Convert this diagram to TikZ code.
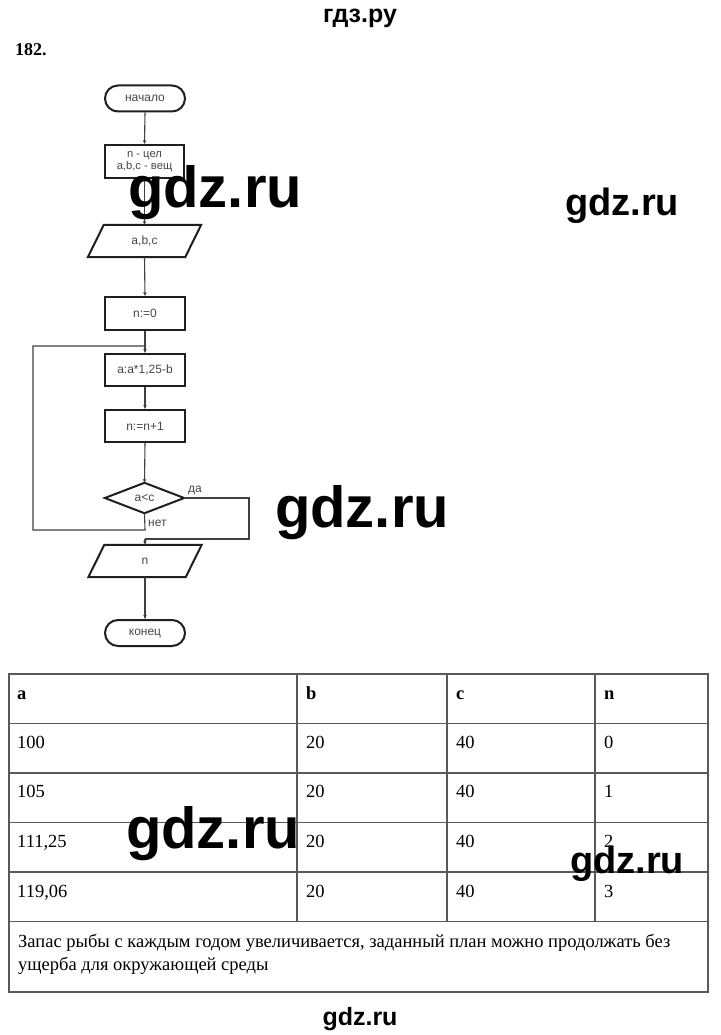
\documentclass[tikz,border=0pt]{standalone}
\usepackage{fontspec}
\setmainfont{Liberation Serif}
\newfontfamily\arialf{Liberation Sans}
\usetikzlibrary{arrows.meta,calc}
\begin{document}
\begin{tikzpicture}[x=1pt,y=-1pt,
  fc/.style={font=\arialf\fontsize{12}{13}\selectfont, text=black!72},
  box/.style={fc, draw=black!88, line width=2pt, minimum width=80pt, minimum height=32pt, inner sep=0pt, align=center},
  term/.style={box, rounded corners=13pt, minimum height=26pt},
  ghost/.style={fc, minimum width=113pt, minimum height=32pt, inner sep=0pt},
  shapeline/.style={draw=black!88, line width=2pt, line join=miter},
  conn/.style={draw=black!75, line width=1.1pt},
  arr/.style={conn, -{Stealth[length=4pt,width=3.5pt]}},
  lbl/.style={fc, inner sep=0pt, anchor=west},
  grid/.style={draw=black!65, line width=1.3pt},
  cell/.style={font=\fontsize{18.5}{21}\selectfont, inner sep=0pt, anchor=base west},
  hcell/.style={cell, font=\bfseries\fontsize{18.5}{21}\selectfont},
  wmbig/.style={font=\arialf\bfseries\fontsize{58}{58}\selectfont, inner sep=0pt, anchor=base},
  wmmid/.style={font=\arialf\bfseries\fontsize{38}{38}\selectfont, inner sep=0pt, anchor=base},
  wmsmall/.style={font=\arialf\bfseries\fontsize{25}{25}\selectfont, inner sep=0pt, anchor=base}]
\useasboundingbox[fill=white] (0,0) rectangle (720,1035);

% header
\node[wmsmall] (hdr) at (360,23) {гдз.ру};
\node[font=\bfseries\fontsize{18}{20}\selectfont, inner sep=0pt, anchor=base west] (num) at (15,56) {182.};

% flowchart nodes
\node[term] (start) at (145,98.5) {начало};
\node[box, minimum width=79pt, minimum height=33pt, font=\arialf\fontsize{11.2}{12.5}\selectfont] (decl) at (144.5,161.5) {n - цел\\a,b,c - вещ};
\node[ghost] (inp) at (144.5,241) {a,b,c};
\draw[shapeline] ([xshift=16pt]inp.north west) -- (inp.north east) -- ([xshift=-16pt]inp.south east) -- (inp.south west) -- cycle;
\node[box, minimum height=33pt] (n0) at (145,313.5) {n:=0};
\node[box] (calc) at (145,370) {a:a*1,25-b};
\node[box] (inc) at (145,426) {n:=n+1};
\node[fc, minimum width=79pt, minimum height=30pt, inner sep=0pt] (dec) at (144.5,498) {a<c};
\draw[shapeline] (dec.west) -- (dec.north) -- (dec.east) -- (dec.south) -- cycle;
\node[ghost] (outp) at (145,561) {n};
\draw[shapeline] ([xshift=16pt]outp.north west) -- (outp.north east) -- ([xshift=-16pt]outp.south east) -- (outp.south west) -- cycle;
\node[term] (stop) at (145,633) {конец};

% connectors
\coordinate (j1) at (145,346);
\coordinate (r1) at (249,498);
\coordinate (r2) at (249,539);
\coordinate (r3) at (145,539);
\coordinate (l1) at (145,530);
\coordinate (l2) at (33,530);
\coordinate (l3) at (33,346);
\draw[arr] (start.south) -- (decl.north);
\draw[arr] (decl.south) -- (inp.north);
\draw[arr] (inp.south) -- (n0.north);
\draw[arr] (n0.south) -- (calc.north);
\draw[arr] (calc.south) -- (inc.north);
\draw[arr] (inc.south) -- (dec.north);
\draw[conn] (dec.south) -- (l1) -- (l2) -- (l3) -- (j1);
\draw[conn] (dec.east) -- (r1) -- (r2) -- (r3);
\draw[arr] (r3) -- (outp.north);
\draw[arr] (outp.south) -- (stop.north);
\node[lbl] (yes) at (188,490) {да};
\node[lbl] (no) at (148,523) {нет};

% table
\draw[grid] (9,674) rectangle (708,992);
\foreach \yy in {723.5,773,822.5,872,921.5} \draw[grid] (9,\yy) -- (708,\yy);
\foreach \xx in {297,447,595} \draw[grid] (\xx,674) -- (\xx,921.5);
\node[hcell] (ha) at (17,699) {a};
\node[hcell] (hb) at (306,699) {b};
\node[hcell] (hc) at (456,699) {c};
\node[hcell] (hn) at (604,699) {n};
\node[cell] (a1) at (17,748) {100};
\node[cell] (b1) at (306,748) {20};
\node[cell] (c1) at (456,748) {40};
\node[cell] (d1) at (604,748) {0};
\node[cell] (a2) at (17,797) {105};
\node[cell] (b2) at (306,797) {20};
\node[cell] (c2) at (456,797) {40};
\node[cell] (d2) at (604,797) {1};
\node[cell] (a3) at (17,847) {111,25};
\node[cell] (b3) at (306,847) {20};
\node[cell] (c3) at (456,847) {40};
\node[cell] (d3) at (604,847) {2};
\node[cell] (a4) at (17,897) {119,06};
\node[cell] (b4) at (306,897) {20};
\node[cell] (c4) at (456,897) {40};
\node[cell] (d4) at (604,897) {3};
\node[cell] (t1) at (18,947) {Запас рыбы с каждым годом увеличивается, заданный план можно продолжать без};
\node[cell] (t2) at (18,970) {ущерба для окружающей среды};

% watermarks
\node[wmbig] (w1) at (215,207) {gdz.ru};
\node[wmmid] (w2) at (622,215) {gdz.ru};
\node[wmbig] (w3) at (362,527) {gdz.ru};
\node[wmbig] (w4) at (213,848) {gdz.ru};
\node[wmmid] (w5) at (627,873) {gdz.ru};
\node[wmsmall] (w6) at (360,1025) {gdz.ru};
\end{tikzpicture}
\end{document}
